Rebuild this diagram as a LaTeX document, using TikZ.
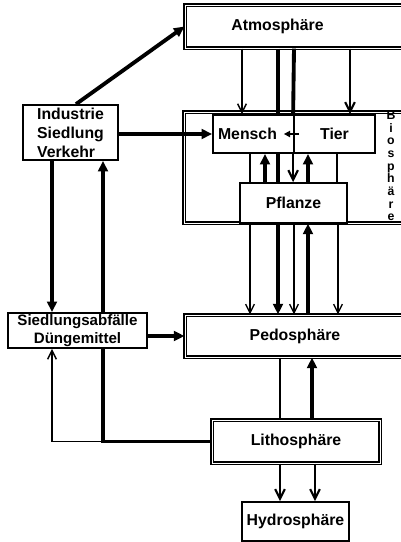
\documentclass[tikz,border=0pt]{standalone}
\usepackage{fontspec}
\setmainfont{Liberation Sans}
\usetikzlibrary{arrows.meta, backgrounds}

\begin{document}
\begin{tikzpicture}[
  x=0.02cm, y=-0.02cm,
  every node/.style={font=\fontsize{9}{10.8}\selectfont\bfseries},
  box/.style      ={draw, line width=1pt, fill=white, inner sep=0pt, align=center},
  spherebox/.style={box, double, double distance=0.5pt, line width=0.65pt},
  fluxline/.style ={line width=0.8pt},
  flux/.style     ={fluxline, -{Straight Barb[length=5pt, width=5pt]}},
  medflux/.style  ={line width=1.2pt, -{Straight Barb[length=5.5pt, width=5.5pt]}},
  bigline/.style  ={line width=2.2pt},
  bigflux/.style  ={bigline, -{Triangle[length=6pt, width=5.5pt]}},
  smallflux/.style={line width=1.2pt, -{Triangle[length=3.5pt, width=3.5pt]}},
  bioLabel/.style ={font=\fontsize{7}{7.2}\selectfont\bfseries, align=center},
]
\useasboundingbox (0,0) rectangle (401,542);

%% ── Spheres ─────────────────────────────────────────────────────────────────
\node[spherebox, minimum width=4.38cm, minimum height=0.86cm,
      label={[xshift=-0.34cm]center:Atmosphäre}] (atm) at (294.5, 26.5) {};
\node[spherebox, minimum width=4.42cm, minimum height=2.22cm] (bio) at (294.5, 167.5) {};
\node[spherebox, minimum width=4.40cm, minimum height=0.84cm] (pedo) at (295, 336) {Pedosphäre};
\node[spherebox, minimum width=3.36cm, minimum height=0.86cm] (litho) at (296, 441.5) {Lithosphäre};
\node[box, minimum width=2.14cm, minimum height=0.78cm] (hydro) at (295.5, 521.5) {Hydrosphäre};

%% ── Inside the biosphere ────────────────────────────────────────────────────
\node[box, minimum width=1.62cm, minimum height=0.76cm,
      label={[xshift=-0.12cm]center:Mensch}] (mensch) at (253.5, 134) {};
\node[box, minimum width=1.62cm, minimum height=0.76cm] (tier) at (334.5, 134) {Tier};
\node[box, minimum width=2.14cm, minimum height=0.80cm] (pfl) at (293.5, 203) {Pflanze};
\node[bioLabel] (biolab) at (391, 166) {B\\i\\o\\s\\p\\h\\ä\\r\\e};

%% ── Human sources ───────────────────────────────────────────────────────────
\node[box, align=left, minimum width=1.90cm, minimum height=1.10cm] (ind) at (70.5, 132.5)
  {Industrie\\Siedlung\\Verkehr};
\node[box, minimum width=2.78cm, minimum height=0.70cm,
      font=\fontsize{8.6}{10.2}\selectfont\bfseries] (sied) at (77.5, 330.5)
  {Siedlungsabfälle\\Düngemittel};

%% ── Arrows ──────────────────────────────────────────────────────────────────
\draw[bigflux] ([xshift=0.11cm]ind.north) -- (atm.west);
\draw[bigflux] (ind.east |- mensch.west) -- (mensch.west);
\draw[bigflux] (ind.south -| 52,0) -- (sied.north -| 52,0);
\draw[bigflux] (sied.east |- pedo.west) -- (pedo.west);

%% lithosphere back to the settlements
\begin{scope}[on background layer]
  \draw[bigflux] (litho.west) -| (ind.south -| 103,0);
\end{scope}
\draw[flux] (litho.west -| 103,0) -| (sied.south -| 52,0);

%% atmosphere into the biosphere
\draw[flux]    (atm.south -| 242,0) -- (mensch.north -| 242,0);
\draw[bigline] (atm.south -| 278,0) -- (mensch.north -| 278,0);
\draw[bigline] (atm.south -| 294,0) -- (tier.north west);
\draw[medflux] (atm.south -| 350,0) -- (tier.north -| 350,0);
\draw[smallflux] ([xshift=0.12cm]tier.west) -- ([xshift=-0.22cm]mensch.east);

%% between consumers and plants
\draw[fluxline] (mensch.south -| 250,0) -- (pfl.north -| 250,0);
\draw[bigflux]  (pfl.north -| 265,0) -- (mensch.south -| 265,0);
\draw[bigline]  (mensch.south -| 278,0) -- (pfl.north -| 278,0);
\draw[medflux]  (tier.south west) -- (pfl.north -| tier.south west);
\draw[bigflux]  (pfl.north -| 308,0) -- (tier.south -| 308,0);
\draw[fluxline] (tier.south -| 337,0) -- (pfl.north -| 337,0);

%% biosphere and soil
\draw[flux]    (bio.south -| 250,0) -- (pedo.north -| 250,0);
\draw[bigflux] (bio.south -| 278,0) -- (pedo.north -| 278,0);
\draw[flux]    (bio.south -| 294,0) -- (pedo.north -| 294,0);
\draw[bigflux] (pedo.north -| 308,0) -- (bio.south -| 308,0);
\draw[flux]    (bio.south -| 338,0) -- (pedo.north -| 338,0);

%% soil, rock and water
\draw[fluxline] (pedo.south -| 280,0) -- (litho.north -| 280,0);
\draw[bigflux]  (litho.north -| 312,0) -- (pedo.south -| 312,0);
\draw[medflux]  (litho.south -| 280,0) -- (hydro.north -| 280,0);
\draw[medflux]  (litho.south -| 315,0) -- (hydro.north -| 315,0);

\end{tikzpicture}
\end{document}
